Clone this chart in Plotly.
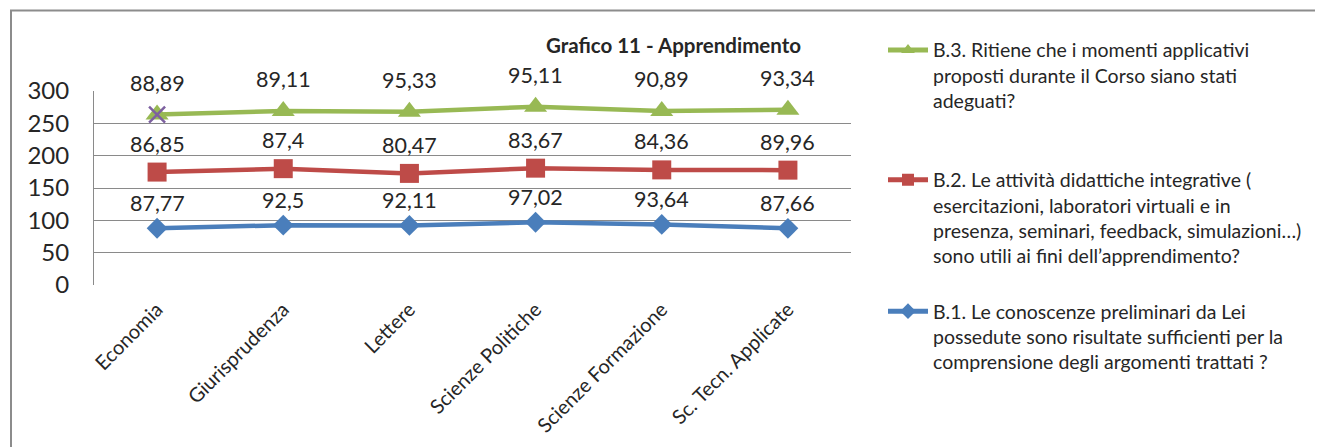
import numpy as np
import plotly.graph_objects as go

categories = ["Economia", "Giurisprudenza", "Lettere", "Scienze Politiche",
              "Scienze Formazione", "Sc. Tecn. Applicate"]
b1_values = [87.77, 92.5, 92.11, 97.02, 93.64, 87.66]
b2_values = [86.85, 87.4, 80.47, 83.67, 84.36, 89.96]
b3_values = [88.89, 89.11, 95.33, 95.11, 90.89, 93.34]
y_ticks = [0, 50, 100, 150, 200, 250, 300]

b1_name = ("B.1. Le conoscenze preliminari da Lei<br>possedute sono risultate sufficienti per la"
           "<br>comprensione degli argomenti trattati ?")
b2_name = ("B.2. Le attività didattiche integrative (<br>esercitazioni, laboratori virtuali e in"
           "<br>presenza, seminari, feedback, simulazioni…)<br>sono utili ai fini dell’apprendimento?")
b3_name = ("B.3. Ritiene che i momenti applicativi<br>proposti durante il Corso siano stati"
           "<br>adeguati?")

BLUE = "#4A7EBB"
RED = "#BE4B48"
GREEN = "#98B954"
PURPLE = "#7D60A0"
GRID = "#8A8A8A"
TXT = "#262626"
FONT = "Lato"

s1 = np.array(b1_values)
s2 = s1 + np.array(b2_values)
s3 = s2 + np.array(b3_values)

fig = go.Figure()
fig.add_trace(go.Scatter(x=categories, y=s1, mode="lines+markers", name=b1_name,
                         line=dict(color=BLUE, width=4.5),
                         marker=dict(symbol="diamond", size=16, color=BLUE),
                         legend="legend3"))
fig.add_trace(go.Scatter(x=categories, y=s2, mode="lines+markers", name=b2_name,
                         line=dict(color=RED, width=4.5),
                         marker=dict(symbol="square", size=19, color=RED),
                         legend="legend2"))
fig.add_trace(go.Scatter(x=categories, y=s3, mode="lines+markers", name=b3_name,
                         line=dict(color=GREEN, width=4.5),
                         marker=dict(symbol="triangle-up", size=20, color=GREEN),
                         legend="legend"))
fig.add_trace(go.Scatter(x=categories[:1], y=s3[:1], mode="markers", showlegend=False,
                         marker=dict(symbol="x-thin", size=16,
                                     line=dict(color=PURPLE, width=2.5))))

def fmt(v):
    return f"{v:g}".replace(".", ",")

annotations = []
for vals, stack, shift in ((b1_values, s1, 25.5), (b2_values, s2, 28.5), (b3_values, s3, 32)):
    for c, v, y in zip(categories, vals, stack):
        annotations.append(dict(x=c, y=y, text=fmt(v), showarrow=False, yshift=shift,
                                font=dict(family=FONT, size=21.5, color=TXT)))

# page has an 8px body margin: work in page pixels and convert
OFF = 8
W, H = 1323 - OFF, 447 - OFF
L, T = 94 - OFF, 91 - OFF
PLOT_R, PLOT_B = 851 - OFF, 285 - OFF
R = W - PLOT_R
B = H - PLOT_B
pw, ph = W - L - R, H - T - B

def px_x(p):
    return (p - OFF - L) / pw

def px_y(p):
    return (H - B - (p - OFF)) / ph

annotations.append(dict(xref="paper", yref="paper", x=px_x(673), y=px_y(45),
                        xanchor="center", yanchor="middle",
                        text="<b>Grafico 11 - Apprendimento</b>",
                        showarrow=False, font=dict(family=FONT, size=20.5, color=TXT)))

legend_common = dict(font=dict(family=FONT, size=19.5, color=TXT), valign="top",
                     xref="container", yref="container", xanchor="left", yanchor="top",
                     bgcolor="rgba(0,0,0,0)", itemsizing="constant", itemwidth=40)

fig.update_layout(
    width=W, height=H,
    margin=dict(l=L, r=R, t=T, b=B, autoexpand=False),
    paper_bgcolor="white", plot_bgcolor="white",
    font=dict(family=FONT, color=TXT),
    xaxis=dict(type="category", range=[-0.5, 5.5], showgrid=False, showline=False,
               zeroline=False, tickangle=-45, ticks="", automargin=False,
               tickfont=dict(family=FONT, size=20, color=TXT), ticklabelstandoff=8),
    yaxis=dict(range=[0, 300], tickvals=y_ticks, showgrid=True, gridcolor=GRID, gridwidth=1,
               showline=True, linecolor=GRID, linewidth=1, zeroline=False, ticks="",
               automargin=False,
               tickfont=dict(family=FONT, size=24, color=TXT), ticklabelstandoff=19),
    legend=dict(x=875 / W, y=1 - 22.7 / H, **legend_common),
    legend2=dict(x=875 / W, y=1 - 152.5 / H, **legend_common),
    legend3=dict(x=875 / W, y=1 - 284 / H, **legend_common),
    annotations=annotations,
    shapes=[dict(type="rect", xref="paper", yref="paper",
                 x0=px_x(11), x1=px_x(1345), y0=px_y(470), y1=px_y(10.5),
                 line=dict(color="#8C8C8C", width=2), fillcolor="rgba(0,0,0,0)", layer="below")],
)

fig.write_html("out.html")
